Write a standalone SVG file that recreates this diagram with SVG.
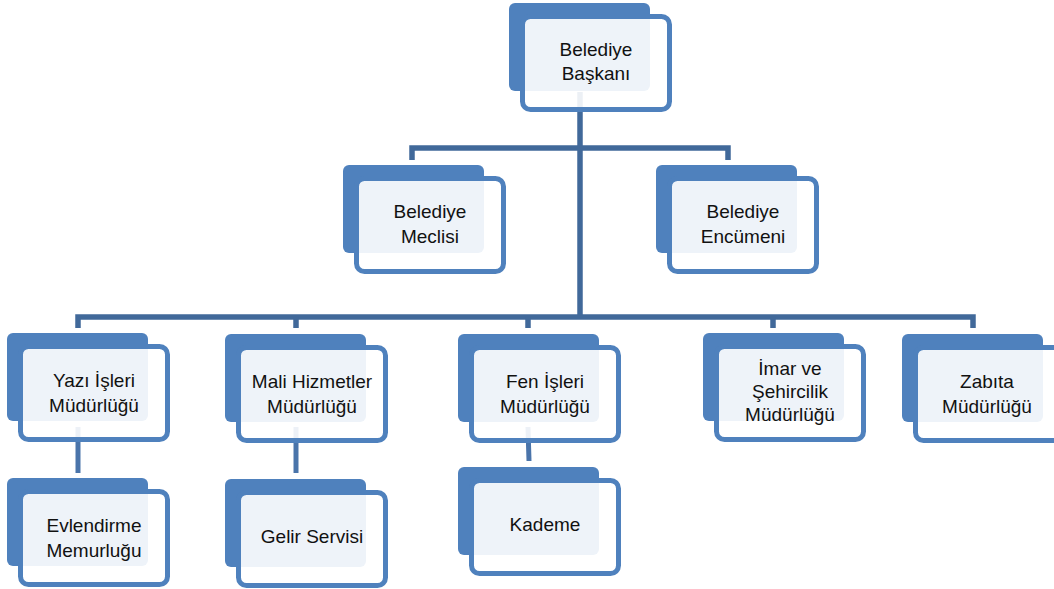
<svg xmlns="http://www.w3.org/2000/svg" width="1054" height="589" viewBox="0 0 1054 589">
<style>
.bg{fill:#ffffff}
.conn{stroke:#41699A;stroke-width:5.5;fill:none;stroke-linecap:butt;stroke-linejoin:miter}
.child{stroke:#4A74AA;stroke-width:5;fill:none}
.back{fill:#4F81BD}
.front{fill:#ffffff;fill-opacity:0.9;stroke:#4F81BD;stroke-width:5}
.lbl{font-family:"Liberation Sans",Arial,sans-serif;font-size:19px;fill:#111111;text-anchor:middle}
</style>
<rect class="bg" x="0" y="0" width="1054" height="589"/>
<g id="connectors">
<path class="conn" d="M580,92 V317"/>
<path class="conn" d="M412,160 V148 H728 V160"/>
<path class="conn" d="M78,328 V317 H973 V328"/>
<path class="conn" d="M296,317 V328"/>
<path class="conn" d="M528,317 V328"/>
<path class="conn" d="M773,317 V328"/>
<path class="child" d="M78,427 V473"/>
<path class="child" d="M296,427 V473"/>
<path class="child" d="M528,427 L529,461"/>
</g>
<g id="baskan">
<rect class="back" x="509" y="3" width="141" height="88" rx="6"/>
<rect class="front" x="522.5" y="16.5" width="147" height="93" rx="8"/>
<text class="lbl" x="596" y="56">Belediye</text>
<text class="lbl" x="596" y="80">Başkanı</text>
</g>
<g id="meclis">
<rect class="back" x="343" y="165" width="141" height="88" rx="6"/>
<rect class="front" x="356.5" y="178.5" width="147" height="93" rx="8"/>
<text class="lbl" x="430" y="218">Belediye</text>
<text class="lbl" x="430" y="243">Meclisi</text>
</g>
<g id="encumen">
<rect class="back" x="656" y="165" width="141" height="88" rx="6"/>
<rect class="front" x="669.5" y="178.5" width="147" height="93" rx="8"/>
<text class="lbl" x="743" y="218">Belediye</text>
<text class="lbl" x="743" y="243">Encümeni</text>
</g>
<g id="yazi">
<rect class="back" x="7" y="333" width="141" height="88" rx="6"/>
<rect class="front" x="20.5" y="346.5" width="147" height="93" rx="8"/>
<text class="lbl" x="94" y="387">Yazı İşleri</text>
<text class="lbl" x="94" y="412">Müdürlüğü</text>
</g>
<g id="mali">
<rect class="back" x="225" y="334" width="141" height="88" rx="6"/>
<rect class="front" x="238.5" y="347.5" width="147" height="93" rx="8"/>
<text class="lbl" x="312" y="388">Mali Hizmetler</text>
<text class="lbl" x="312" y="413">Müdürlüğü</text>
</g>
<g id="fen">
<rect class="back" x="458" y="334" width="141" height="88" rx="6"/>
<rect class="front" x="471.5" y="347.5" width="147" height="93" rx="8"/>
<text class="lbl" x="545" y="388">Fen İşleri</text>
<text class="lbl" x="545" y="413">Müdürlüğü</text>
</g>
<g id="imar">
<rect class="back" x="703" y="333" width="141" height="88" rx="6"/>
<rect class="front" x="716.5" y="346.5" width="147" height="93" rx="8"/>
<text class="lbl" x="790" y="375">İmar ve</text>
<text class="lbl" x="790" y="398">Şehircilik</text>
<text class="lbl" x="790" y="421">Müdürlüğü</text>
</g>
<g id="zabita">
<rect class="back" x="902" y="334" width="141" height="88" rx="6"/>
<rect class="front" x="915.5" y="347.5" width="147" height="93" rx="8"/>
<text class="lbl" x="987" y="388">Zabıta</text>
<text class="lbl" x="987" y="413">Müdürlüğü</text>
</g>
<g id="evlendirme">
<rect class="back" x="7" y="478" width="141" height="88" rx="6"/>
<rect class="front" x="20.5" y="491.5" width="147" height="93" rx="8"/>
<text class="lbl" x="94" y="532">Evlendirme</text>
<text class="lbl" x="94" y="557">Memurluğu</text>
</g>
<g id="gelir">
<rect class="back" x="225" y="479" width="141" height="88" rx="6"/>
<rect class="front" x="238.5" y="492.5" width="147" height="93" rx="8"/>
<text class="lbl" x="312" y="543">Gelir Servisi</text>
</g>
<g id="kademe">
<rect class="back" x="458" y="467" width="141" height="88" rx="6"/>
<rect class="front" x="471.5" y="480.5" width="147" height="93" rx="8"/>
<text class="lbl" x="545" y="531">Kademe</text>
</g>
</svg>
